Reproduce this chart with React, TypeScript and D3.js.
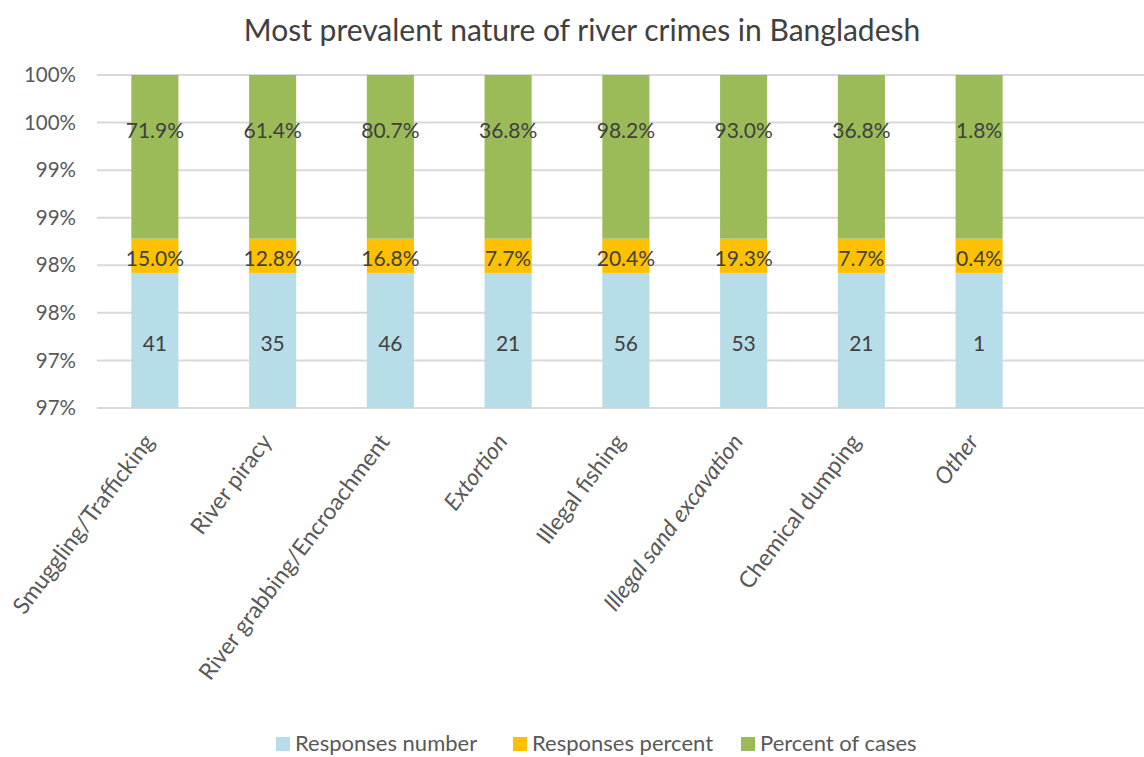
import React from "react";
import * as d3 from "d3";

const categories = [
  "Smuggling/Trafficking",
  "River piracy",
  "River grabbing/Encroachment",
  "Extortion",
  "Illegal fishing",
  "Illegal sand excavation",
  "Chemical dumping",
  "Other",
];
const italicCategories = ["Extortion", "Illegal sand excavation", "Other"];
const responsesNumber = [41, 35, 46, 21, 56, 53, 21, 1];
const responsesPercent = [15.0, 12.8, 16.8, 7.7, 20.4, 19.3, 7.7, 0.4];
const percentOfCases = [71.9, 61.4, 80.7, 36.8, 98.2, 93.0, 36.8, 1.8];
const yTicks = [96.5, 97, 97.5, 98, 98.5, 99, 99.5, 100];
// axis levels where each stacked segment sits (identical for every bar)
const seriesNames = ["Responses number", "Responses percent", "Percent of cases"];
const segmentFrom = [96.5, 97.92, 98.28];
const segmentTo = [97.92, 98.28, 100];
const labelLevel = [97.18, 98.07, 99.42];

const colors = ["#B7DEE8", "#FFC000", "#9BBB59"];
const W = 1144;
const H = 757;
const FONT = "Lato, 'Open Sans', sans-serif";

export default function App() {
  const x = d3.scaleBand().domain(categories).range([96, 1038]).paddingInner(0.6).paddingOuter(0.3);
  const y = d3.scaleLinear().domain([96.5, 100]).range([408, 75]);
  const labelSets = [
    responsesNumber.map((v) => String(v)),
    responsesPercent.map((v) => d3.format(".1f")(v) + "%"),
    percentOfCases.map((v) => d3.format(".1f")(v) + "%"),
  ];
  const legendX = [276, 513, 741];
  return (
    <svg width={W} height={H} style={{ position: "absolute", left: 0, top: 0, background: "#fff" }}>
      <text x={582} y={41} textAnchor="middle" fontFamily={FONT} fontSize={30} fill="#404040">
        Most prevalent nature of river crimes in Bangladesh
      </text>
      {yTicks.map((t, i) => (
        <g key={i}>
          <line x1={97} x2={W} y1={y(t)} y2={y(t)} stroke="#D9D9D9" strokeWidth={2} />
          <text x={76} y={y(t)} dy="0.35em" textAnchor="end" fontFamily={FONT} fontSize={20.5} fill="#595959">
            {d3.format(".0f")(t) + "%"}
          </text>
        </g>
      ))}
      {categories.map((c, i) => (
        <g key={c}>
          {seriesNames.map((s, k) => (
            <rect
              key={s}
              x={x(c)}
              width={x.bandwidth()}
              y={y(segmentTo[k])}
              height={y(segmentFrom[k]) - y(segmentTo[k])}
              fill={colors[k]}
            />
          ))}
          {seriesNames.map((s, k) => (
            <text
              key={s}
              x={(x(c) as number) + x.bandwidth() / 2}
              y={y(labelLevel[k])}
              dy="0.35em"
              textAnchor="middle"
              fontFamily={FONT}
              fontSize={21}
              fill="#404040"
            >
              {labelSets[k][i]}
            </text>
          ))}
          <text
            transform={`translate(${(x(c) as number) + x.bandwidth() / 2 - 6},437) rotate(-53)`}
            textAnchor="end"
            dy="0.35em"
            fontFamily={FONT}
            fontSize={23}
            fontStyle={italicCategories.includes(c) ? "italic" : "normal"}
            fill="#595959"
          >
            {c}
          </text>
        </g>
      ))}
      {seriesNames.map((s, k) => (
        <g key={s}>
          <rect x={legendX[k]} y={737} width={14} height={14} fill={colors[k]} />
          <text x={legendX[k] + 19} y={743} dy="0.35em" fontFamily={FONT} fontSize={22} fill="#595959">
            {s}
          </text>
        </g>
      ))}
    </svg>
  );
}
